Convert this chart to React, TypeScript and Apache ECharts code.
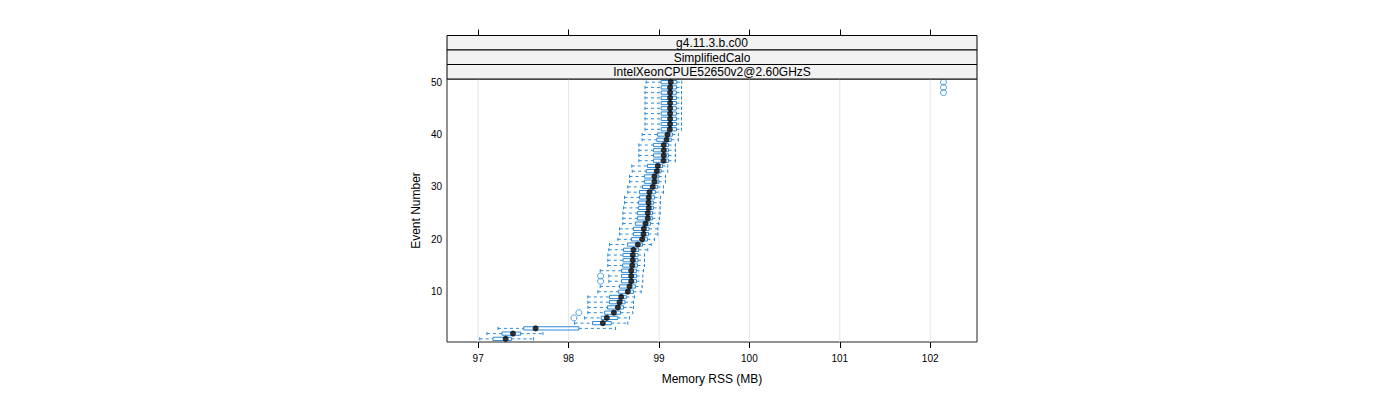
import React, { useEffect, useRef } from "react";
import * as echarts from "echarts";

const events = [1, 2, 3, 4, 5, 6, 7, 8, 9, 10, 11, 12, 13, 14, 15, 16, 17, 18, 19, 20, 21, 22, 23, 24, 25, 26, 27, 28, 29, 30, 31, 32, 33, 34, 35, 36, 37, 38, 39, 40, 41, 42, 43, 44, 45, 46, 47, 48, 49, 50];

const whiskerLow = [97.017, 97.097, 97.219, 98.066, 98.177, 98.213, 98.213, 98.213, 98.213, 98.324, 98.35, 98.445, 98.445, 98.35, 98.434, 98.434, 98.434, 98.445, 98.453, 98.545, 98.564, 98.564, 98.6, 98.6, 98.6, 98.608, 98.619, 98.619, 98.655, 98.655, 98.674, 98.674, 98.704, 98.699, 98.777, 98.777, 98.777, 98.777, 98.814, 98.814, 98.845, 98.845, 98.845, 98.845, 98.845, 98.845, 98.845, 98.845, 98.845, 98.858];
const q1 = [97.164, 97.263, 97.503, 98.265, 98.361, 98.398, 98.431, 98.453, 98.453, 98.552, 98.564, 98.586, 98.586, 98.586, 98.597, 98.602, 98.602, 98.608, 98.652, 98.696, 98.718, 98.718, 98.74, 98.762, 98.762, 98.773, 98.773, 98.785, 98.785, 98.818, 98.84, 98.84, 98.859, 98.873, 98.939, 98.939, 98.939, 98.939, 98.976, 98.983, 99.024, 99.024, 99.024, 99.024, 99.024, 99.024, 99.024, 99.024, 99.024, 99.024];
const median = [97.304, 97.385, 97.635, 98.379, 98.423, 98.501, 98.545, 98.564, 98.582, 98.655, 98.674, 98.693, 98.693, 98.693, 98.704, 98.71, 98.71, 98.718, 98.766, 98.814, 98.829, 98.832, 98.851, 98.876, 98.876, 98.887, 98.884, 98.887, 98.895, 98.931, 98.95, 98.95, 98.976, 98.987, 99.05, 99.053, 99.053, 99.053, 99.083, 99.094, 99.12, 99.123, 99.123, 99.123, 99.123, 99.123, 99.123, 99.123, 99.123, 99.13];
const q3 = [97.367, 97.47, 98.114, 98.472, 98.545, 98.575, 98.608, 98.624, 98.638, 98.718, 98.74, 98.751, 98.751, 98.751, 98.762, 98.768, 98.768, 98.773, 98.818, 98.873, 98.884, 98.89, 98.906, 98.928, 98.928, 98.939, 98.939, 98.95, 98.961, 98.983, 98.998, 98.998, 99.024, 99.039, 99.105, 99.105, 99.105, 99.105, 99.135, 99.149, 99.193, 99.193, 99.193, 99.193, 99.193, 99.193, 99.193, 99.193, 99.193, 99.197];
const whiskerHigh = [97.613, 97.716, 98.519, 98.655, 98.674, 98.71, 98.718, 98.718, 98.729, 98.803, 98.814, 98.821, 98.821, 98.829, 98.84, 98.84, 98.84, 98.876, 98.914, 98.95, 98.987, 98.987, 98.998, 99.006, 99.013, 99.013, 99.017, 99.017, 99.05, 99.05, 99.072, 99.072, 99.097, 99.097, 99.182, 99.182, 99.182, 99.182, 99.215, 99.215, 99.249, 99.249, 99.249, 99.249, 99.249, 99.249, 99.249, 99.249, 99.249, 99.252];

const outlierEvent = [5, 6, 12, 13, 48, 49, 50];
const outlierValue = [98.059, 98.114, 98.354, 98.354, 102.147, 102.147, 102.147];

const xTicks = [97, 98, 99, 100, 101, 102];
const yTicks = [10, 20, 30, 40, 50];
const stripLabels = ["g4.11.3.b.c00", "SimplifiedCalo", "IntelXeonCPUE52650v2@2.60GHzS"];

const BLUE = "#2b8ad8";
const FONT = "Liberation Sans";
const X_MIN = 96.655;
const X_MAX = 102.518;
const Y_MIN = 0.4;
const Y_MAX = 50.6;

const P_LEFT = 447;
const P_RIGHT = 977;
const P_TOP = 79;
const P_BOTTOM = 342;
const STRIP_TOP = 35.5;

export default function App() {
  const ref = useRef<HTMLDivElement>(null);

  useEffect(() => {
    if (!ref.current) return;
    const chart = echarts.init(ref.current, null, { renderer: "svg" });

    const boxData = events.map((e, i) => [e, whiskerLow[i], q1[i], median[i], q3[i], whiskerHigh[i]]);
    const medData = events.map((e, i) => [median[i], e]);
    const outData = outlierEvent.map((e, i) => [outlierValue[i], e]);

    const stripH = (P_TOP - STRIP_TOP) / stripLabels.length;
    const graphics: any[] = [];
    stripLabels.forEach((lab, i) => {
      const y = STRIP_TOP + i * stripH;
      graphics.push({
        type: "rect",
        shape: { x: P_LEFT, y, width: P_RIGHT - P_LEFT, height: stripH },
        style: { fill: "#f2f2f2", stroke: "#000", lineWidth: 1 },
        z: 10,
      });
      graphics.push({
        type: "text",
        x: (P_LEFT + P_RIGHT) / 2,
        y: y + stripH / 2 + 0.5,
        style: { text: lab, fontSize: 12, fontFamily: FONT, fill: "#000", align: "center", verticalAlign: "middle" },
        z: 11,
      });
    });

    const option: any = {
      animation: false,
      backgroundColor: "#fff",
      textStyle: { fontFamily: FONT },
      grid: {
        left: P_LEFT,
        right: 1400 - P_RIGHT,
        top: P_TOP,
        bottom: 400 - P_BOTTOM,
        show: true,
        borderColor: "#222",
        borderWidth: 1,
        backgroundColor: "transparent",
      },
      xAxis: [
        {
          type: "value",
          min: X_MIN,
          max: X_MAX,
          position: "bottom",
          axisLine: { show: false },
          axisTick: { show: true, length: 6, customValues: xTicks, lineStyle: { color: "#000" } },
          axisLabel: { customValues: xTicks, fontSize: 10, color: "#000", margin: 11, fontFamily: FONT },
          splitLine: { show: false },
          name: "Memory RSS (MB)",
          nameLocation: "middle",
          nameGap: 31,
          nameTextStyle: { fontSize: 12, color: "#000", fontFamily: FONT },
        },
        {
          type: "value",
          min: X_MIN,
          max: X_MAX,
          position: "top",
          offset: P_TOP - STRIP_TOP,
          axisLine: { show: false },
          axisTick: { show: true, length: 6, customValues: xTicks, lineStyle: { color: "#000" } },
          axisLabel: { show: false, customValues: xTicks },
          splitLine: { show: false },
        },
      ],
      yAxis: {
        type: "value",
        min: Y_MIN,
        max: Y_MAX,
        axisLine: { show: false },
        axisTick: { show: false },
        axisLabel: { customValues: yTicks, fontSize: 10, color: "#000", margin: 5, fontFamily: FONT },
        splitLine: { show: false },
        name: "Event Number",
        nameLocation: "middle",
        nameGap: 25,
        nameRotate: 90,
        nameTextStyle: { fontSize: 12, color: "#000", fontFamily: FONT },
      },
      graphic: graphics,
      series: [
        {
          type: "custom",
          z: 1,
          silent: true,
          data: xTicks.map((v) => [v]),
          encode: { x: 0 },
          renderItem: (params: any, api: any) => {
            const v = api.value(0);
            const a = api.coord([v, Y_MIN]);
            const b = api.coord([v, Y_MAX]);
            return {
              type: "line",
              shape: { x1: a[0], y1: a[1], x2: b[0], y2: b[1] },
              style: { stroke: "#e6e6e6", lineWidth: 1 },
            };
          },
        },
        {
          type: "custom",
          z: 2,
          silent: true,
          data: boxData,
          encode: { x: [1, 2, 3, 4, 5], y: 0 },
          renderItem: (params: any, api: any) => {
            const e = api.value(0);
            const lo = api.coord([api.value(1), e]);
            const a = api.coord([api.value(2), e]);
            const b = api.coord([api.value(4), e]);
            const hi = api.coord([api.value(5), e]);
            const h = api.size([0, 0.62])[1];
            const y = lo[1];
            const dash = { stroke: BLUE, lineWidth: 1, lineDash: [3, 3] };
            const solid = { stroke: BLUE, lineWidth: 1 };
            return {
              type: "group",
              children: [
                { type: "line", shape: { x1: lo[0], y1: y, x2: a[0], y2: y }, style: dash },
                { type: "line", shape: { x1: b[0], y1: y, x2: hi[0], y2: y }, style: dash },
                { type: "line", shape: { x1: lo[0], y1: y - h / 2, x2: lo[0], y2: y + h / 2 }, style: solid },
                { type: "line", shape: { x1: hi[0], y1: y - h / 2, x2: hi[0], y2: y + h / 2 }, style: solid },
                {
                  type: "rect",
                  shape: { x: a[0], y: y - h / 2, width: b[0] - a[0], height: h },
                  style: { fill: "transparent", stroke: BLUE, lineWidth: 1 },
                },
              ],
            };
          },
        },
        {
          type: "scatter",
          z: 3,
          silent: true,
          data: medData,
          symbol: "circle",
          symbolSize: 6,
          itemStyle: { color: "#000" },
        },
        {
          type: "scatter",
          z: 3,
          silent: true,
          data: outData,
          symbol: "circle",
          symbolSize: 6,
          itemStyle: { color: "transparent", borderColor: BLUE, borderWidth: 1 },
        },
      ],
    };

    chart.setOption(option);
    return () => chart.dispose();
  }, []);

  return (
    <div
      ref={ref}
      style={{ position: "fixed", left: 0, top: 0, width: 1400, height: 400, background: "#fff" }}
    />
  );
}
